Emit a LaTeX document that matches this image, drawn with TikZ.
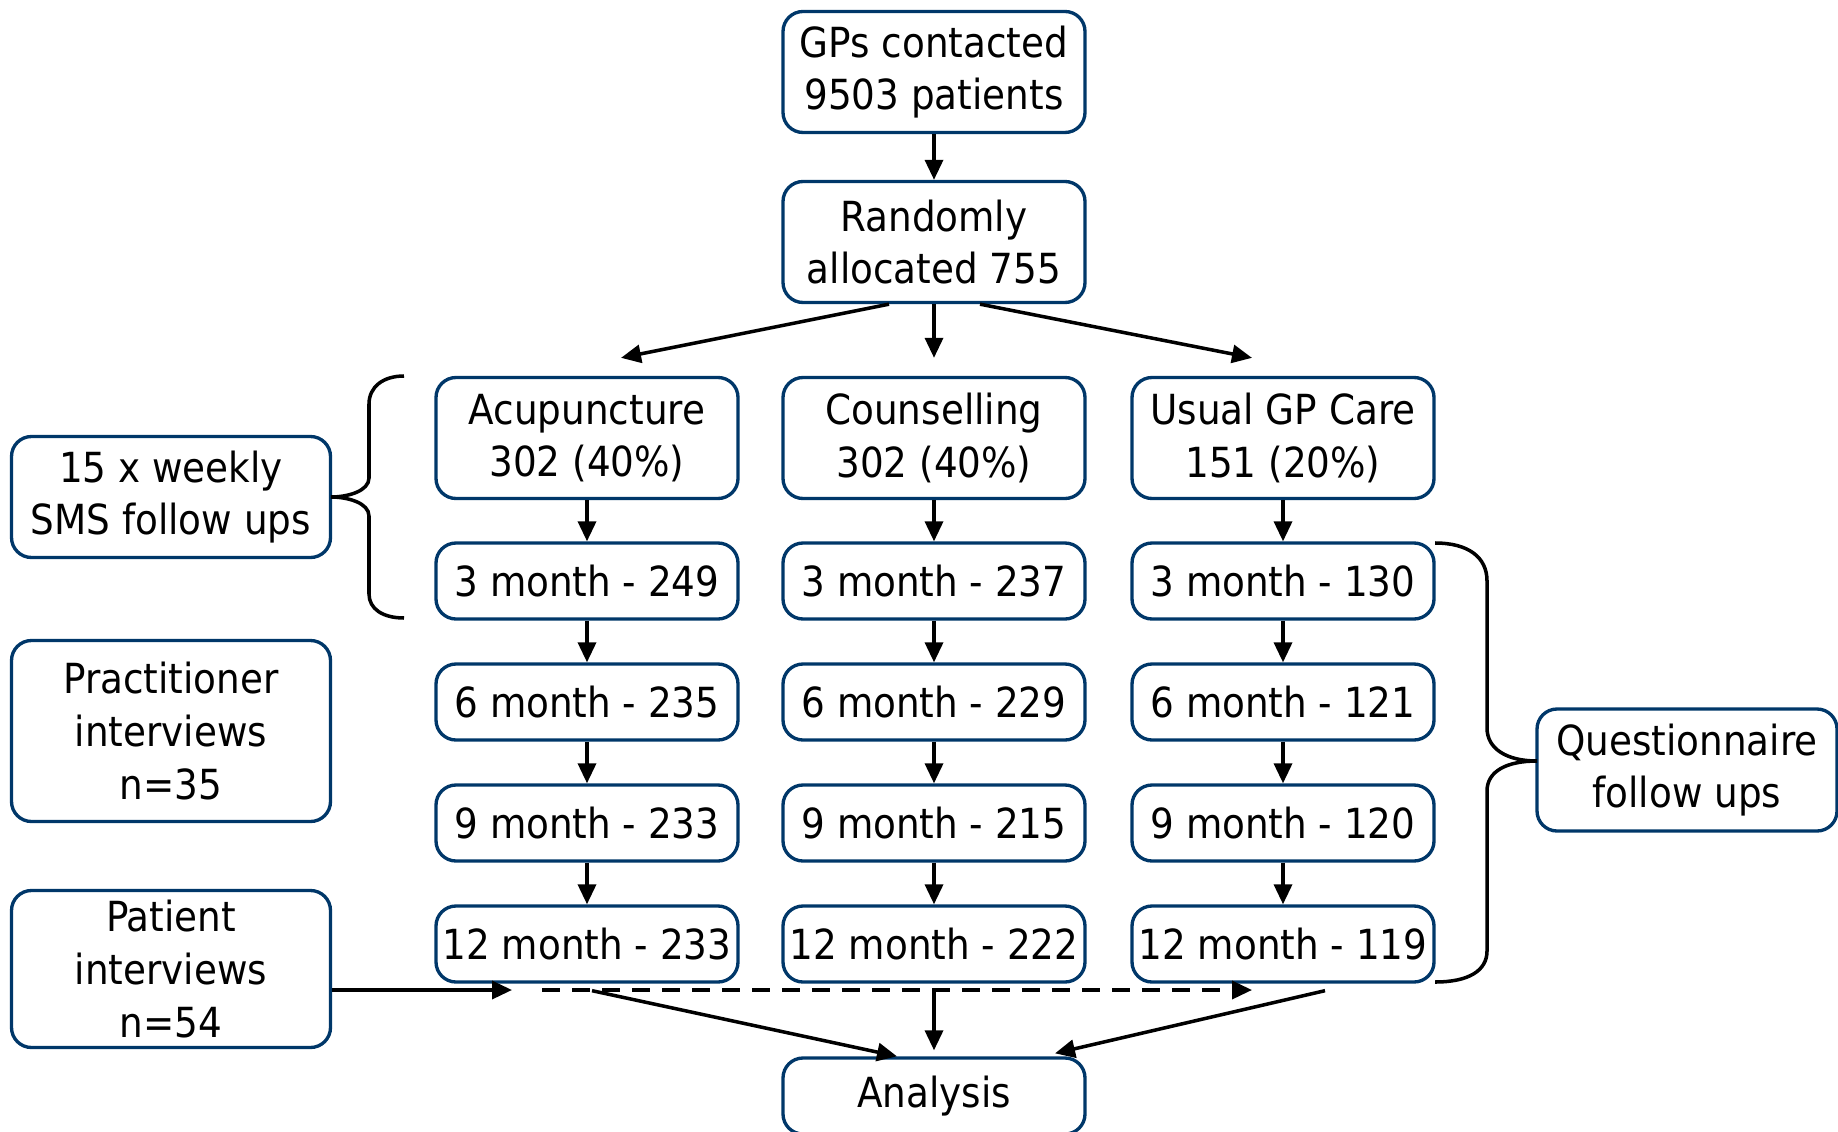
\documentclass[tikz,border=0pt]{standalone}
\usepackage{fontspec}
\setmainfont{DejaVu Sans Condensed}
\usetikzlibrary{arrows.meta}
\definecolor{boxblue}{RGB}{0,55,105}
\tikzset{
  box/.style={draw=boxblue, line width=0.95pt, rounded corners=2mm, align=center,
    inner sep=0.5mm, font=\fontsize{11.8}{15}\selectfont},
  big/.style={box, minimum width=30.2mm, minimum height=12.1mm},
  small/.style={box, minimum width=30.2mm, minimum height=7.6mm},
  side/.style={box, minimum width=31.9mm},
  arr/.style={-{Triangle[length=2mm,width=1.8mm]}, line width=1pt},
  curly/.style={line width=1pt}
}
\begin{document}
\begin{tikzpicture}[x=0.1mm, y=-0.1mm]
    \useasboundingbox (0,0) rectangle (1838,1131);
    \node[big] (gp) at (934,72) {GPs contacted\\9503 patients};
    \node[big] (rand) at (934,242) {Randomly\\allocated 755};
    \node[big] (acu) at (587,438) {Acupuncture\\302 (40\%)};
    \node[big] (cou) at (934,438) {Counselling\\302 (40\%)};
    \node[big] (usu) at (1283,438) {Usual GP Care\\151 (20\%)};
    \draw[arr] (gp) -- (rand);
    \draw[arr] ([xshift=-4.5mm]rand.south) -- ([xshift=3.4mm,yshift=1.8mm]acu.north);
    \draw[arr] (rand) -- ([yshift=1.8mm]cou.north);
    \draw[arr] ([xshift=4.6mm]rand.south) -- ([xshift=-3.1mm,yshift=1.8mm]usu.north);
    \foreach \arm/\x/\ta/\tb/\tc/\td in {acu/587/249/235/233/233, cou/934/237/229/215/222, usu/1283/130/121/120/119} {
      \node[small] (\arm3) at (\x,581) {3 month - \ta};
      \node[small] (\arm6) at (\x,702) {6 month - \tb};
      \node[small] (\arm9) at (\x,823) {9 month - \tc};
      \node[small] (\arm12) at (\x,944) {12 month - \td};
      \draw[arr] (\arm) -- (\arm3);
      \draw[arr] (\arm3) -- (\arm6);
      \draw[arr] (\arm6) -- (\arm9);
      \draw[arr] (\arm9) -- (\arm12);
    }
    \node[small] (ana) at (934,1096) {Analysis};
    \node[side, minimum height=12.1mm] (sms) at (171,497) {15 x weekly\\SMS follow ups};
    \node[side, minimum height=18.1mm] (prac) at (171,731) {Practitioner\\interviews\\n=35};
    \node[side, minimum height=15.7mm] (pat) at (171,969) {Patient\\interviews\\n=54};
    \node[box, minimum width=30mm, minimum height=12.2mm] (quest) at (1687,770) {Questionnaire\\follow ups};
    \coordinate (dashL) at (542,990);
    \coordinate (dashR) at (1252,990);
    \draw[arr] (pat.east |- dashL) -- ([xshift=-3mm]dashL);
    \draw[arr, dash pattern=on 1.8mm off 1.2mm] (dashL) -- (dashR);
    \draw[arr] ([xshift=0.5mm,yshift=-0.7mm]acu12.south) -- ([xshift=-3.7mm]ana.north);
    \draw[arr] ([yshift=-0.7mm]cou12.south) -- ([yshift=0.6mm]ana.north);
    \draw[arr] ([xshift=4.2mm,yshift=-0.7mm]usu12.south) -- ([xshift=12.1mm,yshift=0.3mm]ana.north);
    \draw[curly] (404,376) .. controls (383,376) and (369,387) .. (369,404) -- (369,478)
      .. controls (369,491) and (348,497) .. (331,497) .. controls (348,497) and (369,503) .. (369,516)
      -- (369,594) .. controls (369,609) and (383,618) .. (404,618);
    \draw[curly] (1435,543) .. controls (1468,543) and (1487,557) .. (1487,581) -- (1487,728)
      .. controls (1487,749) and (1507,761) .. (1537,761) .. controls (1507,761) and (1487,771) .. (1487,791)
      -- (1487,951) .. controls (1487,971) and (1468,982) .. (1435,982);
\end{tikzpicture}
\end{document}
